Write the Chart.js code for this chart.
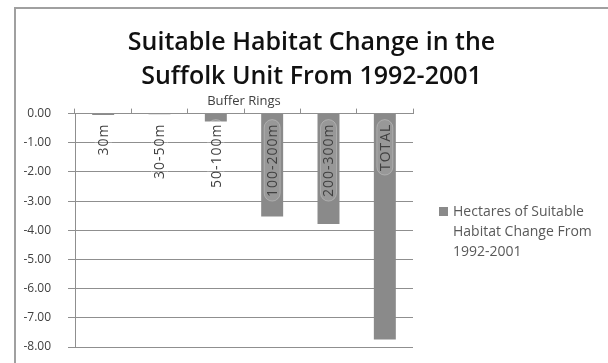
<!DOCTYPE html>
<html>
<head>
<meta charset="utf-8">
<script src="https://cdn.jsdelivr.net/npm/chart.js@4.4.1/dist/chart.umd.min.js"></script>
<style>
  html, body { margin: 0; padding: 0; background: #fff; }
  #wrap { width: 608px; height: 363px; position: relative; }
</style>
</head>
<body>
<div id="wrap"><canvas id="c" width="608" height="363"></canvas></div>
<script>
// Buffer ring categories and the change in suitable habitat (hectares)
const rings = ['30m', '30-50m', '50-100m', '100-200m', '200-300m', 'TOTAL'];
const habitatChange = [-0.05, -0.02, -0.27, -3.53, -3.78, -7.74];
const seriesName = 'Hectares of Suitable Habitat Change From 1992-2001';
const legendLines = ['Hectares of Suitable', 'Habitat Change From', '1992-2001'];
const titleLines = ['Suitable Habitat Change in the', 'Suffolk Unit From 1992-2001'];
const axisTitle = 'Buffer Rings';

const BAR = '#8a8a8a';
const GRID = '#8f8f8f';
const TEXT = '#404040';

// Outer frame and white background
const framePlugin = {
  id: 'frame',
  beforeDraw(chart) {
    const ctx = chart.ctx;
    ctx.save();
    ctx.fillStyle = '#fff';
    ctx.fillRect(0, 0, chart.width, chart.height);
    ctx.strokeStyle = '#a0a0a0';
    ctx.lineWidth = 2;
    ctx.beginPath();
    ctx.moveTo(15, chart.height + 2);
    ctx.lineTo(15, 8);
    ctx.lineTo(chart.width + 2, 8);
    ctx.stroke();
    ctx.restore();
  }
};

// Two-line title centred across the framed area
const frameTitle = {
  id: 'frameTitle',
  afterDraw(chart) {
    const ctx = chart.ctx;
    ctx.save();
    ctx.fillStyle = '#111';
    ctx.font = '600 25px "Open Sans"';
    ctx.textAlign = 'center';
    ctx.textBaseline = 'middle';
    const cx = (15 + chart.width) / 2;
    titleLines.forEach((line, i) => ctx.fillText(line, cx, 43 + i * 34));
    ctx.restore();
  }
};

// Category names written vertically just under the zero line
const ringLabels = {
  id: 'ringLabels',
  afterDatasetsDraw(chart) {
    const ctx = chart.ctx;
    const xs = chart.scales.x, ys = chart.scales.y;
    const y0 = ys.getPixelForValue(0);
    ctx.save();
    ctx.font = '14px "Open Sans"';
    ctx.letterSpacing = '1px';
    ctx.textBaseline = 'middle';
    ctx.textAlign = 'right';
    rings.forEach((name, i) => {
      const x = xs.getPixelForValue(i);
      ctx.save();
      ctx.translate(x, y0 + 10);
      ctx.rotate(-Math.PI / 2);
      const w = ctx.measureText(name).width;
      ctx.fillStyle = 'rgba(255,255,255,0.12)';
      ctx.strokeStyle = 'rgba(255,255,255,0.25)';
      ctx.lineWidth = 1;
      ctx.beginPath();
      ctx.roundRect(-w - 4, -8, w + 8, 16, 8);
      ctx.fill();
      ctx.stroke();
      ctx.fillStyle = TEXT;
      ctx.fillText(name, 0, 1);
      ctx.restore();
    });
    ctx.restore();
  }
};

// Legend on the right, wrapped over three lines
const sideLegend = {
  id: 'sideLegend',
  afterDraw(chart) {
    const ctx = chart.ctx;
    const left = chart.chartArea.right + 26;
    const top = 212;
    ctx.save();
    ctx.fillStyle = BAR;
    ctx.fillRect(left, top - 5, 9, 9);
    ctx.fillStyle = '#595959';
    ctx.font = '14px "Open Sans"';
    ctx.textBaseline = 'middle';
    ctx.textAlign = 'left';
    legendLines.forEach((line, i) => ctx.fillText(line, left + 14, top + i * 20));
    ctx.restore();
  }
};

new Chart(document.getElementById('c'), {
  type: 'bar',
  data: {
    labels: rings,
    datasets: [{
      label: seriesName,
      data: habitatChange,
      backgroundColor: BAR,
      borderWidth: 0,
      barPercentage: 0.39,
      categoryPercentage: 1.0
    }]
  },
  options: {
    responsive: false,
    animation: false,
    layout: { padding: { left: 14, right: 195, top: 93, bottom: 16 } },
    plugins: {
      legend: { display: false },
      tooltip: { enabled: false },
      title: { display: false }
    },
    scales: {
      x: {
        position: 'top',
        offset: true,
        ticks: { display: false },
        grid: { display: true, drawOnChartArea: false, drawTicks: true, tickLength: 5, color: GRID, offset: true },
        border: { display: true, color: GRID },
        title: {
          display: true,
          text: axisTitle,
          color: TEXT,
          font: { family: '"Open Sans"', size: 13, lineHeight: 1.2 },
          padding: { top: 0, bottom: 0 }
        }
      },
      y: {
        min: -8,
        max: 0,
        ticks: {
          stepSize: 1,
          color: TEXT,
          padding: 17,
          font: { family: '"Open Sans"', size: 12 },
          callback: v => Number(v).toFixed(2)
        },
        grid: { color: GRID, tickLength: 7 },
        border: { display: true, color: GRID },
        afterFit(s) {
          s.width = 61;
          s.paddingTop = 0;
          s.paddingBottom = 0;
        }
      }
    }
  },
  plugins: [framePlugin, ringLabels, sideLegend, frameTitle]
});
</script>
</body>
</html>
